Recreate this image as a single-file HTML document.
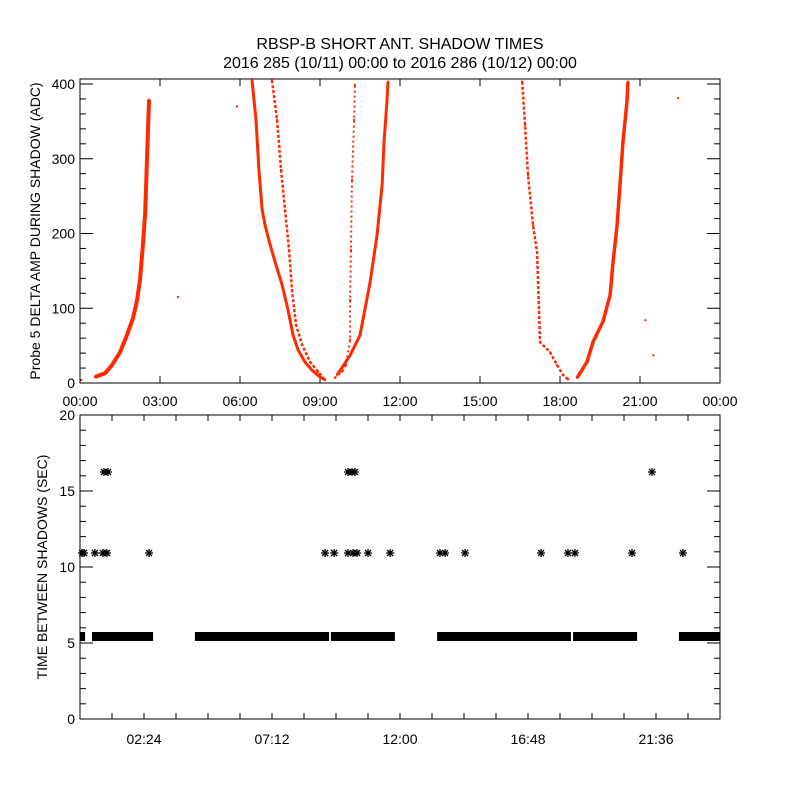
<!DOCTYPE html>
<html><head><meta charset="utf-8"><style>
body{margin:0;background:#fff;}
svg{display:block;font-family:"Liberation Sans",sans-serif;}
</style></head><body>
<svg id="c" width="800" height="800" xmlns="http://www.w3.org/2000/svg">
<rect width="800" height="800" fill="#fff"/>
<text x="400" y="49" text-anchor="middle" font-size="16">RBSP-B SHORT ANT. SHADOW TIMES</text>
<text x="400" y="68" text-anchor="middle" font-size="16">2016 285 (10/11) 00:00 to 2016 286 (10/12) 00:00</text>
<g id="topPanel"></g>
<g id="botPanel"></g>
</svg>
<script>
// Top panel data: [hour, ADC]
const branchA=[[0.56,8],[0.94,13],[1.2,24],[1.5,41],[1.76,64],[1.99,87],[2.14,111],[2.25,138],[2.36,185],[2.44,225],[2.48,265],[2.51,298],[2.55,338],[2.59,379]];
const branchB=[[6.45,405],[6.6,352],[6.71,285],[6.83,232],[6.94,211],[7.13,185],[7.35,158],[7.58,131],[7.8,98],[7.99,64],[8.18,44],[8.44,28],[8.7,17],[9.0,8],[9.19,4]];
const branchC=[[7.2,405],[7.39,352],[7.54,285],[7.69,231],[7.84,178],[7.95,124],[8.1,78],[8.33,51],[8.63,28],[8.93,15],[9.19,4]];
const branchD=[[9.56,7],[9.83,15],[9.98,24],[10.13,58],[10.13,111],[10.16,178],[10.2,272],[10.28,352],[10.31,399]];
const branchE=[[9.64,11],[10.13,37],[10.5,64],[10.88,135],[11.14,198],[11.33,265],[11.4,322],[11.51,376],[11.55,403]];
const branchF=[[16.58,403],[16.69,345],[16.8,278],[16.99,211],[17.14,175],[17.21,100],[17.25,55],[17.63,41],[17.89,24],[18.11,11],[18.3,5]];
const branchG=[[18.64,7],[19.01,28],[19.24,55],[19.61,82],[19.88,118],[19.99,162],[20.14,211],[20.25,265],[20.36,322],[20.51,376],[20.55,403]];
const strayPts=[[3.68,115],[5.89,370],[22.43,381],[21.2,84],[21.5,37],[0.05,4]];
const topXLabels=["00:00","03:00","06:00","09:00","12:00","15:00","18:00","21:00","00:00"];
const topYLabels=[0,100,200,300,400];
// Bottom panel data
const baseSegments=[[0,0.19],[0.45,2.74],[4.31,9.34],[9.41,11.81],[13.39,18.41],[18.49,20.89],[22.46,24]];
const baseValue=5.46;
const mid10Hours=[0.08,0.15,0.56,0.86,1.01,2.59,9.19,9.53,10.05,10.24,10.39,10.8,11.63,13.5,13.69,14.44,17.29,18.3,18.56,20.7,22.61];
const mid10Value=10.92;
const hi16Hours=[0.9,1.05,10.05,10.2,10.31,21.45];
const hi16Value=16.25;
const botXLabels=["02:24","07:12","12:00","16:48","21:36"];
const botYLabels=[0,5,10,15,20];

const NS="http://www.w3.org/2000/svg";
function mk(tag,attrs,parent){const e=document.createElementNS(NS,tag);for(const k in attrs)e.setAttribute(k,attrs[k]);parent.appendChild(e);return e;}
const L=80,R=720;
const xs=h=>L+h*(R-L)/24;
const topY=v=>383-v*(383-84)/400;
const botY=v=>719-v*(719-415)/20;
const gTop=document.getElementById('topPanel'), gBot=document.getElementById('botPanel');

let f=mk('rect',{x:L,y:79,width:R-L,height:304,fill:'none',stroke:'#000','stroke-width':1},gTop);


for(let v=0;v<=400;v+=20){const y=topY(v);const len=v%100===0?13:6;
 mk('line',{x1:L,x2:L+len,y1:y,y2:y,stroke:'#000'},gTop);mk('line',{x1:R,x2:R-len,y1:y,y2:y,stroke:'#000'},gTop);}
topYLabels.forEach(v=>{const t=mk('text',{x:L-5,y:topY(v)+5,'text-anchor':'end','font-size':14},gTop);t.textContent=v;
 
 });
topXLabels.forEach((s,i)=>{const x=xs(i*3);
 mk('line',{x1:x,x2:x,y1:383,y2:376,stroke:'#000'},gTop);mk('line',{x1:x,x2:x,y1:79,y2:86,stroke:'#000'},gTop);
 const t=mk('text',{x:x,y:406,'text-anchor':'middle','font-size':14},gTop);t.textContent=s;
 
 });
let yt=mk('text',{transform:'translate(40,231) rotate(-90)','text-anchor':'middle','font-size':14},gTop);
yt.textContent='Probe 5 DELTA AMP DURING SHADOW (ADC)';



const branches=[[branchA,4,'none'],[branchB,3,'none'],[branchC,2.5,'3 2'],[branchD,2,'2 3'],[branchE,3,'none'],[branchF,2.5,'3 2'],[branchG,3.5,'none']];
branches.forEach(([pts,w,da])=>{
 const p=mk('polyline',{points:pts.map(d=>xs(d[0])+','+topY(Math.min(d[1],406))).join(' '),fill:'none',stroke:'#ff2a00','stroke-width':w,'stroke-dasharray':da,'stroke-linejoin':'round'},gTop);
 
 
 pts.forEach(d=>{const r=mk('rect',{x:xs(d[0])-1,y:topY(Math.min(d[1],406))-1,width:2,height:2,fill:'#ff2a00'},gTop);
  
  });
});
strayPts.forEach(d=>{const r=mk('rect',{x:xs(d[0])-1,y:topY(d[1])-1,width:2,height:2,fill:'#ff2a00'},gTop);
 
 });

let f2=mk('rect',{x:L,y:415,width:R-L,height:304,fill:'none',stroke:'#000'},gBot);


for(let v=0;v<=20;v+=1){const y=botY(v);const len=v%5===0?13:6;
 mk('line',{x1:L,x2:L+len,y1:y,y2:y,stroke:'#000'},gBot);mk('line',{x1:R,x2:R-len,y1:y,y2:y,stroke:'#000'},gBot);}
botYLabels.forEach(v=>{const t=mk('text',{x:L-5,y:botY(v)+5,'text-anchor':'end','font-size':14},gBot);t.textContent=v;
 
 });
for(let h=1.2;h<24;h+=1.2){const x=xs(h);mk('line',{x1:x,x2:x,y1:719,y2:713,stroke:'#000'},gBot);mk('line',{x1:x,x2:x,y1:415,y2:421,stroke:'#000'},gBot);}
botXLabels.forEach((s,i)=>{const t=mk('text',{x:xs(2.4+i*4.8),y:744,'text-anchor':'middle','font-size':14},gBot);t.textContent=s;
 
 });
let yt2=mk('text',{transform:'translate(47,567) rotate(-90)','text-anchor':'middle','font-size':14},gBot);
yt2.textContent='TIME BETWEEN SHADOWS (SEC)';



baseSegments.forEach(s=>{const r=mk('rect',{x:xs(s[0]),y:botY(baseValue)-4,width:xs(s[1])-xs(s[0]),height:9,fill:'#000'},gBot);
 
 });
function star(h,v){const x=xs(h),y=botY(v);const g=mk('g',{stroke:'#000','stroke-width':1.3},gBot);
 
 
 mk('line',{x1:x-4,x2:x+4,y1:y,y2:y},g);mk('line',{x1:x,x2:x,y1:y-4,y2:y+4},g);
 mk('line',{x1:x-3,x2:x+3,y1:y-3,y2:y+3},g);mk('line',{x1:x-3,x2:x+3,y1:y+3,y2:y-3},g);}
mid10Hours.forEach(h=>star(h,mid10Value));
hi16Hours.forEach(h=>star(h,hi16Value));
</script>
</body></html>
